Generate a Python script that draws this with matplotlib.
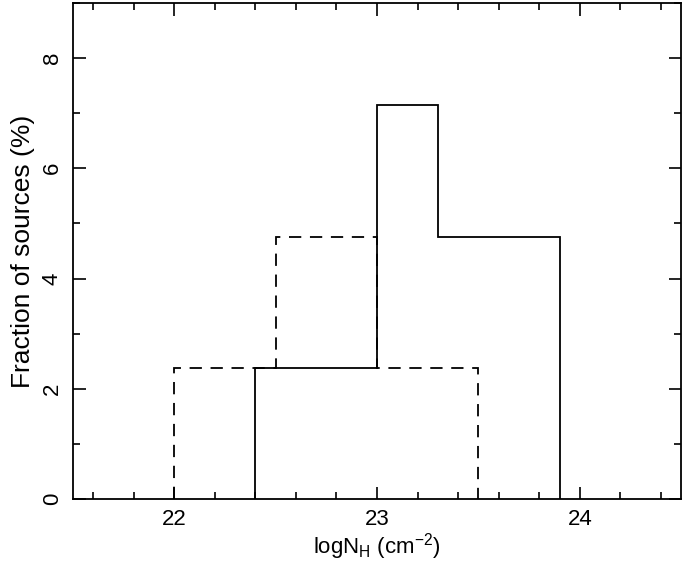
import matplotlib
matplotlib.use("Agg")
import matplotlib.pyplot as plt
from matplotlib.ticker import MultipleLocator

plt.rcParams['font.family'] = ['Liberation Sans', 'DejaVu Sans']

# histograma linea continua
bordes_solido = [22.4, 23.0, 23.3, 23.9]
valores_solido = [2.38, 7.14, 4.76]

# histograma linea discontinua
bordes_guiones = [22.0, 22.5, 23.0, 23.5]
valores_guiones = [2.38, 4.76, 2.38]

fig = plt.figure(figsize=(6.86, 5.64), dpi=100)
ax = fig.add_axes([0.106, 0.115, 0.887, 0.880])

ax.stairs(valores_guiones, bordes_guiones, color='black', linewidth=1.3,
          linestyle=(0, (6.8, 4.8)))
ax.stairs(valores_solido, bordes_solido, color='black', linewidth=1.3)

ax.set_xlim(21.5, 24.5)
ax.set_ylim(0, 9)
ax.xaxis.set_major_locator(MultipleLocator(1))
ax.xaxis.set_minor_locator(MultipleLocator(0.2))
ax.yaxis.set_major_locator(MultipleLocator(2))
ax.yaxis.set_minor_locator(MultipleLocator(1))
ax.tick_params(which='both', direction='in', top=True, right=True,
               width=1.2, labelsize=16)
ax.tick_params(which='major', length=9, pad=7)
ax.tick_params(which='minor', length=5)
for lbl in ax.get_yticklabels():
    lbl.set_rotation(90)
    lbl.set_va('center')
for s in ax.spines.values():
    s.set_linewidth(1.3)

ax.set_xlabel(r'logN$_{\mathregular{H}}$ (cm$^{\mathregular{-2}}$)', fontsize=16, labelpad=1)
ax.set_ylabel('Fraction of sources (%)', fontsize=19, labelpad=5)

fig.savefig('out.png', dpi=100)
